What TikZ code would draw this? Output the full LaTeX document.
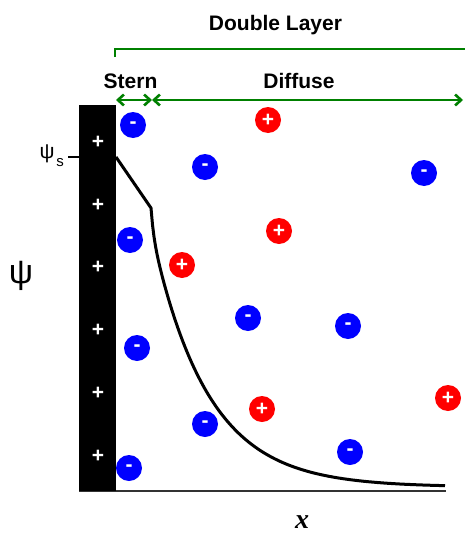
\documentclass[tikz,border=0pt]{standalone}
\usepackage{fontspec}
\setmainfont{Liberation Sans}
\newfontfamily\timesfont{Liberation Serif}
\usetikzlibrary{arrows.meta, positioning}
\definecolor{dlgreen}{RGB}{0,128,0}

\begin{document}
\begin{tikzpicture}[x=1pt, y=-1pt, >={Straight Barb[length=6pt, width=11pt]},
    ion/.style={circle, minimum size=26pt, inner sep=0pt, text=white, font=\fontsize{21}{21}\selectfont\bfseries},
    anion/.style={ion, fill=blue},
    cation/.style={ion, fill=red},
    surfplus/.style={text=white, inner sep=0pt, font=\fontsize{21}{21}\selectfont\bfseries},
    zonelabel/.style={anchor=base, inner sep=0pt, font=\fontsize{21}{21}\selectfont\bfseries}]

    \useasboundingbox (0,0) rectangle (464,533);

    % --- Axes and electrode ---
    \draw[line width=2pt, black!80] (79,491) -- (446,491);
    \node[fill=black, minimum width=37pt, minimum height=386pt, inner sep=0pt, anchor=north west] (electrode) at (79,105) {};
    % Surface charges on the electrode
    \foreach \y [count=\i] in {142, 205, 267, 330, 393, 456} {
      \node[surfplus] (surf\i) at (98,\y) {+};
    }

    % --- Layer brackets ---
    \draw[dlgreen, line width=2.6pt] (115,57) -- (115,49) -- (466,49);
    \node[zonelabel] (dl) at (275.5,30) {Double Layer};
    \coordinate (sternL) at (116,100);
    \coordinate (sternR) at (152,100);
    \coordinate (diffR) at (463,100);
    \draw[<->, dlgreen, line width=2.6pt] (sternL) -- (sternR);
    \draw[<->, dlgreen, line width=2.6pt] (sternR) -- (diffR);
    \node[zonelabel] (stern) at (130.5,88) {Stern};
    \node[zonelabel] (diffuse) at (299,88) {Diffuse};

    % --- Ions in solution ---
    \foreach \p [count=\i] in {{(133,125)}, {(205,167)}, {(424,173)}, {(130,240)}, {(248,318)}, {(348,326)}, {(137,348)}, {(205,424)}, {(350,452)}, {(129,468)}} {
      \node[anion] (neg\i) at \p {-};
    }
    \foreach \p [count=\i] in {{(268,120)}, {(279,231)}, {(182,265)}, {(262,409)}, {(448,398)}} {
      \node[cation] (pos\i) at \p {+};
    }

    % --- Potential profile: linear in Stern layer, exponential decay in diffuse layer ---
    \draw[line width=3pt, line join=round] (116,157)
      -- plot[domain=151:445, samples=200] (\x, {487 - 257*exp(-(\x-151)/56) - 22*exp(-(\x-151)/2.5)});

    % --- Labels ---
    \draw[line width=1.5pt] (68,157) -- (79,157);
    \node[inner sep=0pt, font=\fontsize{21}{21}\selectfont] (psis) at (47,154) {ψ};
    \node[inner sep=0pt, font=\fontsize{15}{15}\selectfont] (psisub) at (60,163) {s};
    \node[inner sep=0pt, font=\fontsize{34}{34}\selectfont] (psi) at (21,276) {ψ};
    \node[inner sep=0pt, font=\timesfont\fontsize{28}{28}\selectfont\bfseries\itshape] (xlab) at (302,522) {x};

\end{tikzpicture}
\end{document}
